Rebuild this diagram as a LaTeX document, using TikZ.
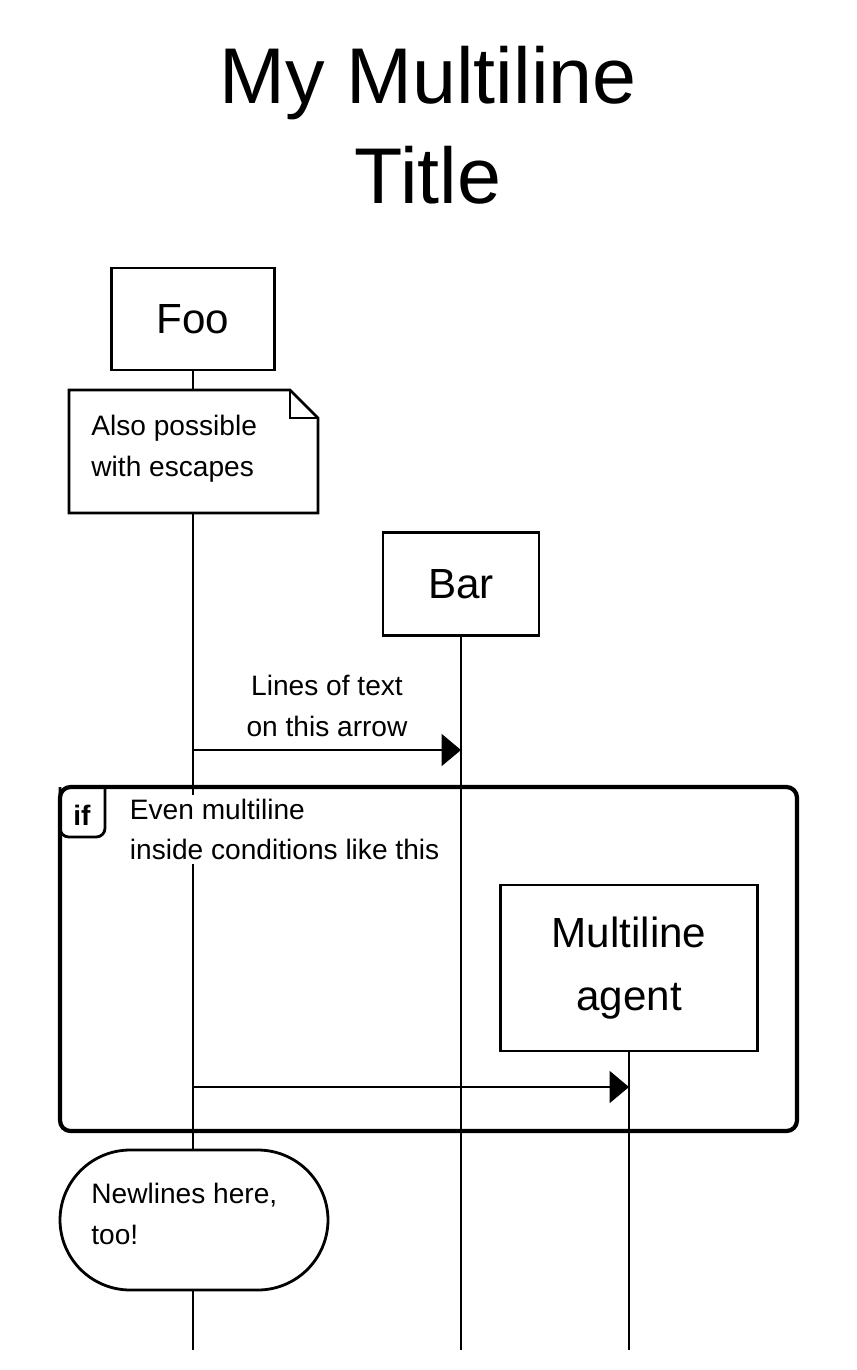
\documentclass[tikz,border=0pt]{standalone}
\usepackage{fontspec}
\setmainfont{Liberation Sans}
\usetikzlibrary{arrows.meta,positioning}
\begin{document}
\begin{tikzpicture}[x=0.02cm,y=-0.02cm,line width=1.6pt,
  font=\fontsize{16}{23}\selectfont,
  agent/.style={draw,fill=white,font=\fontsize{24}{36}\selectfont,align=center,inner sep=0},
  msg/.style={-{Triangle[length=11pt,width=18pt]}},
  label text/.style={align=left,inner sep=0,anchor=north west}]
\useasboundingbox (0,0) rectangle (857,1370);
% Title
\node[font=\fontsize{45}{57}\selectfont,align=center] (title) at (428,125) {My Multiline\\Title};
% Lifeline ends
\coordinate (foo end) at (193,1350);
\coordinate (bar end) at (461,1350);
\coordinate (agent end) at (629,1350);
% Agents
\node[agent,minimum width=3.26cm,minimum height=2.04cm] (foo) at (193,319) {Foo};
\node[agent,minimum width=3.12cm,minimum height=2.06cm] (bar) at (461,584) {Bar};
\node[agent,minimum width=5.14cm,minimum height=3.32cm] (agent) at (629,968) {Multiline\\agent};
% Lifelines
\draw (foo) -- (foo end);
\draw (bar) -- (bar end);
\draw (agent) -- (agent end);
% Note with folded corner
\filldraw[fill=white] (69,390) -- (290,390) -- (318,418) -- (318,513) -- (69,513) -- cycle;
\draw (290,390) -- (290,418) -- (318,418);
\node[label text] (note) at (90,414) {Also possible\\with escapes};
% First message
\coordinate (m1 foo) at (193,750);
\coordinate (m1 bar) at (461,750);
\draw[msg] (m1 foo) -- (m1 bar);
\node[align=center,inner sep=0] (m1 label) at (327,706) {Lines of text\\on this arrow};
% Condition frame
\draw[line width=2.4pt,rounded corners=6] (60,787) rectangle (797,1131);
\draw[rounded corners=5] (60,787) -- (60,837) -- (105,837) -- (105,787);
\node[font=\fontsize{16}{20}\selectfont\bfseries,inner sep=0] (if) at (82,815) {if};
\node[label text,fill=white,inner sep=2pt] (cond) at (125,794) {Even multiline\\inside conditions like this};
% Second message
\coordinate (m2 foo) at (193,1087);
\coordinate (m2 agent) at (629,1087);
\draw[msg] (m2 foo) -- (m2 agent);
% Rounded box
\filldraw[fill=white,rounded corners=40] (60,1150) rectangle (328,1290);
\node[label text] (box) at (90,1182) {Newlines here,\\too!};
\end{tikzpicture}
\end{document}
